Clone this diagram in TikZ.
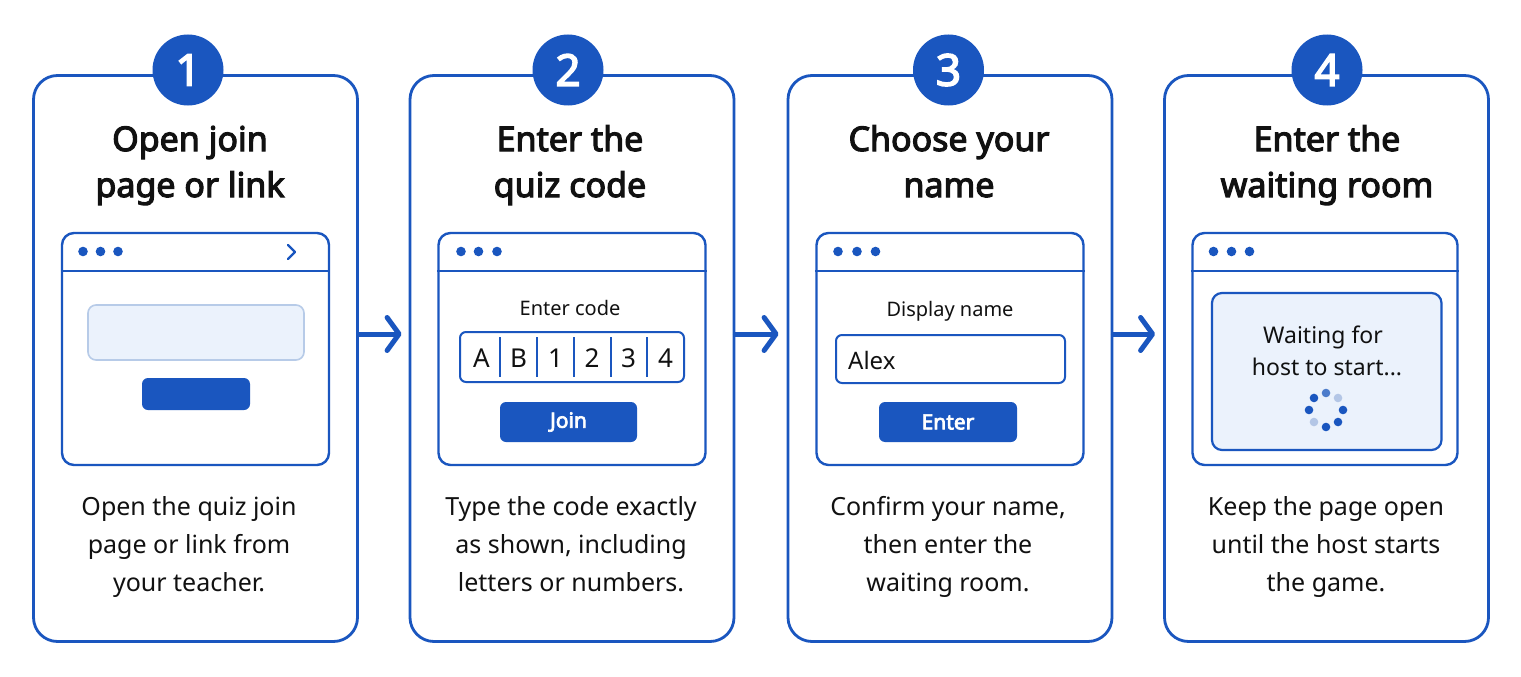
\documentclass[tikz,border=0pt]{standalone}
\usepackage{fontspec}
\setmainfont{Noto Sans}[AutoFakeBold=3.3]
\usetikzlibrary{arrows.meta}
\definecolor{qblue}{HTML}{1A56BF}
\definecolor{lightfill}{HTML}{EBF2FC}
\definecolor{lightline}{HTML}{B7CBE8}
\definecolor{spinlight}{HTML}{B3C6E6}
\definecolor{spinmid}{HTML}{4C7CCB}
\definecolor{ink}{HTML}{111111}
\newcommand\fs[1]{\fontsize{#1}{#1}\selectfont}
\begin{document}
\begin{tikzpicture}[x=1pt,y=-1pt,
  panel/.style={draw=qblue, line width=2.8pt, rounded corners=24pt, fill=white,
    minimum width=324pt, minimum height=566pt, inner sep=0pt},
  badge/.style={circle, fill=qblue, minimum size=71pt, inner sep=0pt,
    text=white, font=\bfseries\fs{44}},
  titletext/.style={anchor=base, text=ink, font=\bfseries\fs{34}, inner sep=0pt},
  desctext/.style={anchor=base, text=ink, font=\fs{25}, inner sep=0pt},
  uitext/.style={text=ink, inner sep=0pt},
  browser/.style={draw=qblue, line width=2.4pt, rounded corners=12pt, fill=white,
    minimum width=267pt, minimum height=232pt, inner sep=0pt},
  barline/.style={draw=qblue, line width=2.4pt},
  wdot/.style={fill=qblue},
  fieldbox/.style={draw=qblue, line width=2pt, rounded corners=6pt, fill=white},
  btn/.style={fill=qblue, rounded corners=6pt, inner sep=0pt, text=white,
    font=\bfseries\fs{21}},
  divider/.style={draw=qblue, line width=2pt},
  flow/.style={draw=qblue, line width=5pt, line cap=round, line join=round,
    -{Straight Barb[length=12pt,width=33pt,line cap=round,line join=round]}}
]
\useasboundingbox[fill=white] (0,0) rectangle (1521,677);

% panels
\node[panel] (p1) at (195.5,358.5) {};
\node[panel] (p2) at (572,358.5) {};
\node[panel] (p3) at (950,358.5) {};
\node[panel] (p4) at (1326.5,358.5) {};

% badges
\node[badge] (b1) at (188,70) {1};
\node[badge] (b2) at (568,70) {2};
\node[badge] (b3) at (948.5,70) {3};
\node[badge] (b4) at (1327,70) {4};

% titles
\node[titletext] (t1a) at (190,151) {Open join};
\node[titletext] (t1b) at (190,197) {page or link};
\node[titletext] (t2a) at (570,151) {Enter the};
\node[titletext] (t2b) at (570,197) {quiz code};
\node[titletext] (t3a) at (949,151) {Choose your};
\node[titletext] (t3b) at (949,197) {name};
\node[titletext] (t4a) at (1327,151) {Enter the};
\node[titletext] (t4b) at (1327,197) {waiting room};

% descriptions
\node[desctext] (d1a) at (189,515) {Open the quiz join};
\node[desctext] (d1b) at (189,553) {page or link from};
\node[desctext] (d1c) at (189,591) {your teacher.};
\node[desctext] (d2a) at (571,515) {Type the code exactly};
\node[desctext] (d2b) at (571,553) {as shown, including};
\node[desctext] (d2c) at (571,591) {letters or numbers.};
\node[desctext] (d3a) at (948,515) {Confirm your name,};
\node[desctext] (d3b) at (948,553) {then enter the};
\node[desctext] (d3c) at (948,591) {waiting room.};
\node[desctext] (d4a) at (1326,515) {Keep the page open};
\node[desctext] (d4b) at (1326,553) {until the host starts};
\node[desctext] (d4c) at (1326,591) {the game.};

% browser windows
\node[browser] (w1) at (195.5,349) {};
\node[browser] (w2) at (572,349) {};
\node[browser] (w3) at (950,349) {};
\node[browser, minimum width=265pt] (w4) at (1325,349) {};
\foreach \w in {w1,w2,w3,w4}{
  \draw[barline] (\w.west |- 0,271) -- (\w.east |- 0,271);
}
\foreach \x in {83,100.5,118}{\fill[wdot] (\x,251.5) circle (4.8pt);}
\foreach \x in {461,478.5,497}{\fill[wdot] (\x,251.5) circle (4.8pt);}
\foreach \x in {838,857,875.5}{\fill[wdot] (\x,251.5) circle (4.8pt);}
\foreach \x in {1213.5,1231.5,1249.5}{\fill[wdot] (\x,251.5) circle (4.8pt);}
\draw[qblue, line width=2.4pt, line cap=round, line join=round]
  (288,245) -- (295,252) -- (288,259);

% panel 1 contents
\draw[draw=lightline, fill=lightfill, line width=1.6pt, rounded corners=8pt]
  (88,305) rectangle (304,360);
\node[btn, minimum width=108pt, minimum height=32pt] (btn1) at (196,394) {};

% panel 2 contents
\node[uitext, font=\fs{20}] (ec) at (570,308) {Enter code};
\draw[fieldbox] (460,332) rectangle (684,382);
\foreach \x in {500,537,574,610.5,647}{\draw[divider] (\x,337) -- (\x,377);}
\foreach \x/\c in {481.5/A,518.5/B,555.5/1,592/2,628.5/3,665.5/4}{
  \node[uitext, font=\fs{26}] at (\x,358) {\c};
}
\node[btn, minimum width=137pt, minimum height=40pt] (btn2) at (568.5,422) {Join};

% panel 3 contents
\node[uitext, font=\fs{20}] (dn) at (950,311) {Display name};
\draw[fieldbox] (836,335) rectangle (1065,383);
\node[uitext, font=\fs{24}, anchor=west] (alex) at (848,360) {Alex};
\node[btn, minimum width=138pt, minimum height=40pt] (btn3) at (948,422) {Enter};

% panel 4 contents
\draw[draw=qblue, fill=lightfill, line width=2.2pt, rounded corners=10pt]
  (1212,293) rectangle (1441.5,450);
\node[uitext, font=\fs{23}] (wf) at (1323,337) {Waiting for};
\node[uitext, font=\fs{23}] (hs) at (1327,367) {host to start...};
\foreach \a/\c in {90/spinmid,45/spinlight,0/qblue,-45/qblue,-90/qblue,-135/spinlight,180/qblue,135/qblue}{
  \fill[\c] ({1326+17*cos(\a)},{410-17*sin(\a)}) circle (4.3pt);
}

% flow arrows
\coordinate (arow) at (0,334);
\draw[flow] (p1.east |- arow) -- ([xshift=-7pt]p2.west |- arow);
\draw[flow] (p2.east |- arow) -- ([xshift=-8pt]p3.west |- arow);
\draw[flow] (p3.east |- arow) -- ([xshift=-8pt]p4.west |- arow);
\end{tikzpicture}
\end{document}
